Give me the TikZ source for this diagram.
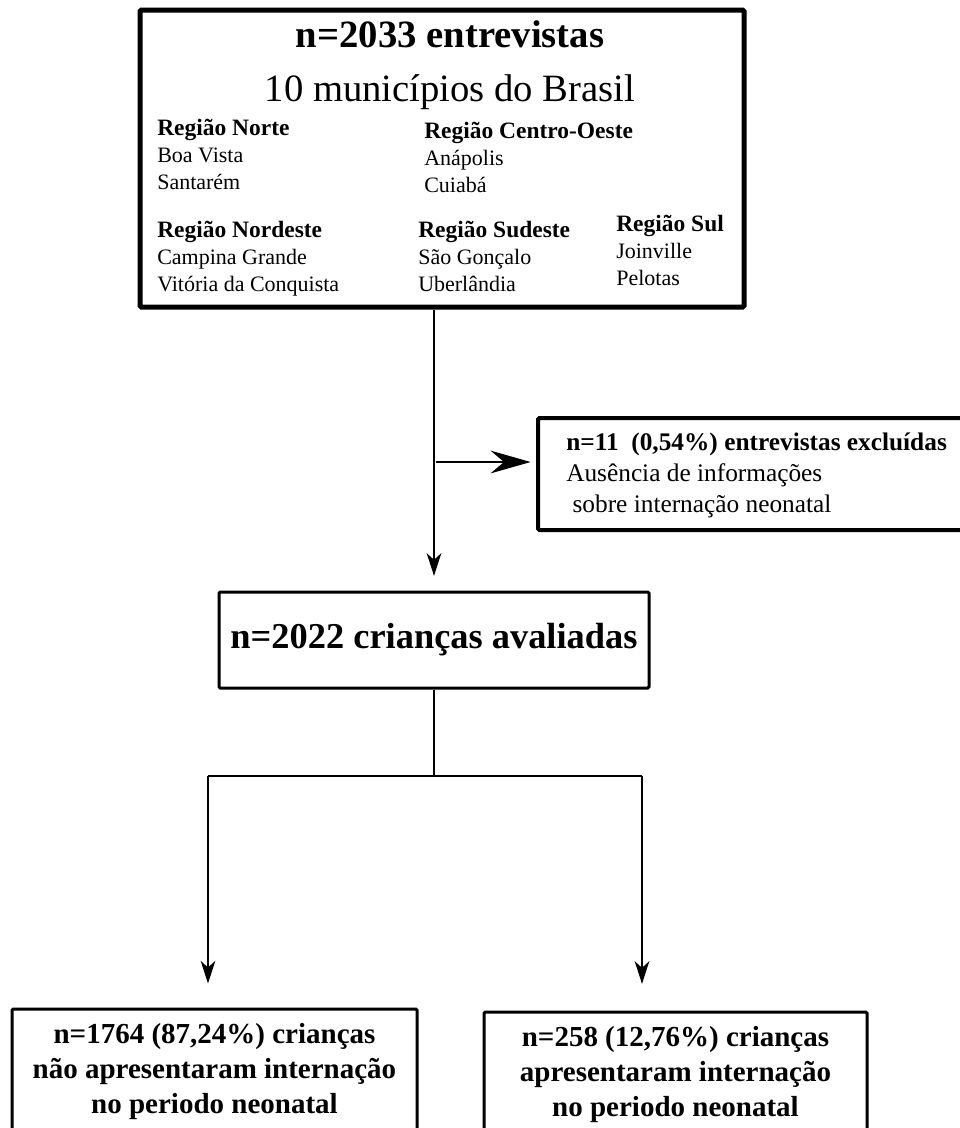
\documentclass[tikz,border=0pt]{standalone}
\usepackage{fontspec}
\setmainfont{Liberation Serif}
\usetikzlibrary{arrows.meta}

\tikzset{
  caixa/.style={draw, line width=2.25pt, rounded corners=1pt, inner sep=0pt},
  regiao/.style={anchor=base west, align=left, inner sep=0pt, font=\fontsize{16.5}{20}\selectfont},
  seta/.style={line width=1.1pt, -{Stealth[length=17pt,width=11pt,inset=5pt]}},
  setagrossa/.style={line width=1.9pt, -{Stealth[length=30pt,width=17pt,inset=10pt]}},
}

\begin{document}
\begin{tikzpicture}[x=0.75pt,y=-0.75pt]
	\clip (0,0) rectangle (960,1128);

	% caixa de cima
	\node[caixa, line width=3.75pt, minimum width=604*0.75pt, minimum height=297*0.75pt] (entrevistas) at (442,158.5) {};
	\node[anchor=base, inner sep=0pt, font=\bfseries\fontsize{29}{35}\selectfont] (titulo) at (450,47) {n=2033 entrevistas};
	\node[anchor=base, inner sep=0pt, font=\fontsize{29}{35}\selectfont] (municipios) at (450,101) {10 municípios do Brasil};
	% (base = linha de baixo)
	\node[regiao] (norte) at (157,189) {\textbf{\fontsize{17.6}{20}\selectfont Região Norte}\\Boa Vista\\Santarém};
	\node[regiao] (centro) at (424,192) {\textbf{\fontsize{17.6}{20}\selectfont Região Centro-Oeste}\\Anápolis\\Cuiabá};
	\node[regiao] (nordeste) at (157,291) {\textbf{\fontsize{17.6}{20}\selectfont Região Nordeste}\\Campina Grande\\Vitória da Conquista};
	\node[regiao] (sudeste) at (418,291) {\textbf{\fontsize{17.6}{20}\selectfont Região Sudeste}\\São Gonçalo\\Uberlândia};
	\node[regiao] (sul) at (616,285) {\textbf{\fontsize{17.6}{20}\selectfont Região Sul}\\Joinville\\Pelotas};

	% excluidas
	\node[caixa, line width=3pt, minimum width=462*0.75pt, minimum height=112*0.75pt] (excluidas) at (769,474) {};
	\node[anchor=base west, align=left, inner sep=0pt, font=\fontsize{19}{23}\selectfont] (motivo) at (566,512)
		{\textbf{n=11\ \ (0,54\%) entrevistas excluídas}\\Ausência de informações\\\ sobre internação neonatal};

	% criancas avaliadas
	\node[caixa, minimum width=430*0.75pt, minimum height=96*0.75pt, font=\bfseries\fontsize{27.3}{33}\selectfont] (avaliadas) at (434,640) {n=2022 crianças avaliadas};

	% desfechos
	\node[caixa, minimum width=405*0.75pt, minimum height=126*0.75pt, align=center, font=\bfseries\fontsize{21.75}{26.25}\selectfont] (semintern) at (214.5,1072)
		{n=1764 (87,24\%) crianças\\não apresentaram internação\\no periodo neonatal};
	\node[caixa, minimum width=383*0.75pt, minimum height=126*0.75pt, align=center, font=\bfseries\fontsize{21.75}{26.25}\selectfont] (comintern) at (675.5,1075)
		{n=258 (12,76\%) crianças\\apresentaram internação\\no periodo neonatal};

	% ligacoes
	\coordinate (desvio) at (436,462);
	\coordinate (ramo) at (434,776);
	\coordinate (ramoesq) at (208,776);
	\coordinate (ramodir) at (642,776);
	\draw[seta, shorten >=11pt] (entrevistas.south -| avaliadas.north) -- (avaliadas.north);
	\draw[setagrossa, shorten >=4pt] (desvio) -- (desvio -| excluidas.west);
	\draw[line width=1.1pt] (avaliadas.south) -- (ramo);
	\draw[line width=1.1pt] (ramoesq) -- (ramodir);
	\draw[seta, shorten >=18pt] (ramoesq) -- (ramoesq |- semintern.north);
	\draw[seta, shorten >=20pt] (ramodir) -- (ramodir |- comintern.north);
\end{tikzpicture}
\end{document}
